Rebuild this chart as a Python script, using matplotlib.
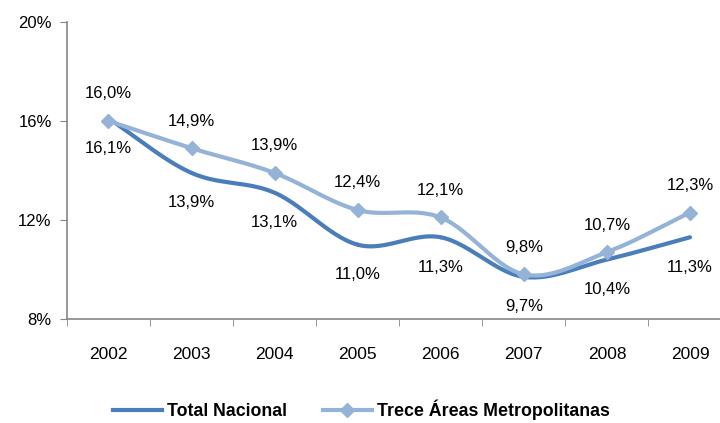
import numpy as np
import matplotlib.pyplot as plt
from matplotlib.lines import Line2D

years = ['2002', '2003', '2004', '2005', '2006', '2007', '2008', '2009']
total_nacional = [16.1, 13.9, 13.1, 11.0, 11.3, 9.7, 10.4, 11.3]
trece_areas = [16.0, 14.9, 13.9, 12.4, 12.1, 9.8, 10.7, 12.3]
y_ticks = [8, 12, 16, 20]

DARK = '#4A7EBB'
LIGHT = '#95B3D7'
GRAY = '#868686'

plt.rcParams['font.family'] = ['Liberation Sans', 'DejaVu Sans']


def smooth(xs, ys, n=30):
    # catmull-rom, close to excel's smoothed line
    xs = np.asarray(xs, float)
    ys = np.asarray(ys, float)
    px = np.concatenate([[2 * xs[0] - xs[1]], xs, [2 * xs[-1] - xs[-2]]])
    py = np.concatenate([[2 * ys[0] - ys[1]], ys, [2 * ys[-1] - ys[-2]]])
    out_x, out_y = [], []
    t = np.linspace(0, 1, n)
    for i in range(1, len(px) - 2):
        for p, out in ((px, out_x), (py, out_y)):
            p0, p1, p2, p3 = p[i - 1], p[i], p[i + 1], p[i + 2]
            seg = 0.5 * ((2 * p1) + (-p0 + p2) * t + (2 * p0 - 5 * p1 + 4 * p2 - p3) * t ** 2
                         + (-p0 + 3 * p1 - 3 * p2 + p3) * t ** 3)
            out.extend(seg)
    return np.array(out_x), np.array(out_y)


fig = plt.figure(figsize=(7.2, 4.23), dpi=100)
ax = fig.add_axes([0.093, 0.246, 0.923, 0.702])

x = np.arange(len(years))
sx, sy = smooth(x, total_nacional)
ax.plot(sx, sy, color=DARK, lw=3, solid_capstyle='round', zorder=3)
sx, sy = smooth(x, trece_areas)
ax.plot(sx, sy, color=LIGHT, lw=3, solid_capstyle='round', zorder=4)
ax.plot(x, trece_areas, ls='none', marker='D', ms=7, color=LIGHT, zorder=5)

for xi, v in zip(x, trece_areas):
    ax.annotate(f'{v:.1f}%'.replace('.', ','), (xi, v), xytext=(0, 19.5), textcoords='offset points',
                ha='center', va='center', fontsize=12)
for xi, v in zip(x, total_nacional):
    ax.annotate(f'{v:.1f}%'.replace('.', ','), (xi, v), xytext=(0, -21.5), textcoords='offset points',
                ha='center', va='center', fontsize=12)

ax.set_xlim(-0.5, len(years) - 0.5)
ax.set_ylim(8, 20)
ax.set_yticks(y_ticks)
ax.set_yticklabels([f'{t}%' for t in y_ticks], fontsize=12)
ax.set_xticks(x)
ax.set_xticklabels(years, fontsize=12.5)
ax.set_xticks(np.arange(len(years) + 1) - 0.5, minor=True)
ax.tick_params(axis='x', which='major', length=0, pad=20)
ax.tick_params(axis='x', which='minor', length=5, color=GRAY, direction='out')
ax.tick_params(axis='y', length=5, color=GRAY, direction='out', pad=6)

for s in ['top', 'right']:
    ax.spines[s].set_visible(False)
for s in ['left', 'bottom']:
    ax.spines[s].set_color(GRAY)
    ax.spines[s].set_linewidth(1.2)

handles = [Line2D([], [], color=DARK, lw=3),
           Line2D([], [], color=LIGHT, lw=3, marker='D', ms=7)]
fig.legend(handles, ['Total Nacional', 'Trece Áreas Metropolitanas'], loc='center',
           bbox_to_anchor=(0.502, 0.031), ncol=2, frameon=False, handlelength=2.75,
           columnspacing=2.0, handletextpad=0.3, prop={'size': 12.8, 'weight': 'bold'})

fig.savefig('out.png', dpi=100)
